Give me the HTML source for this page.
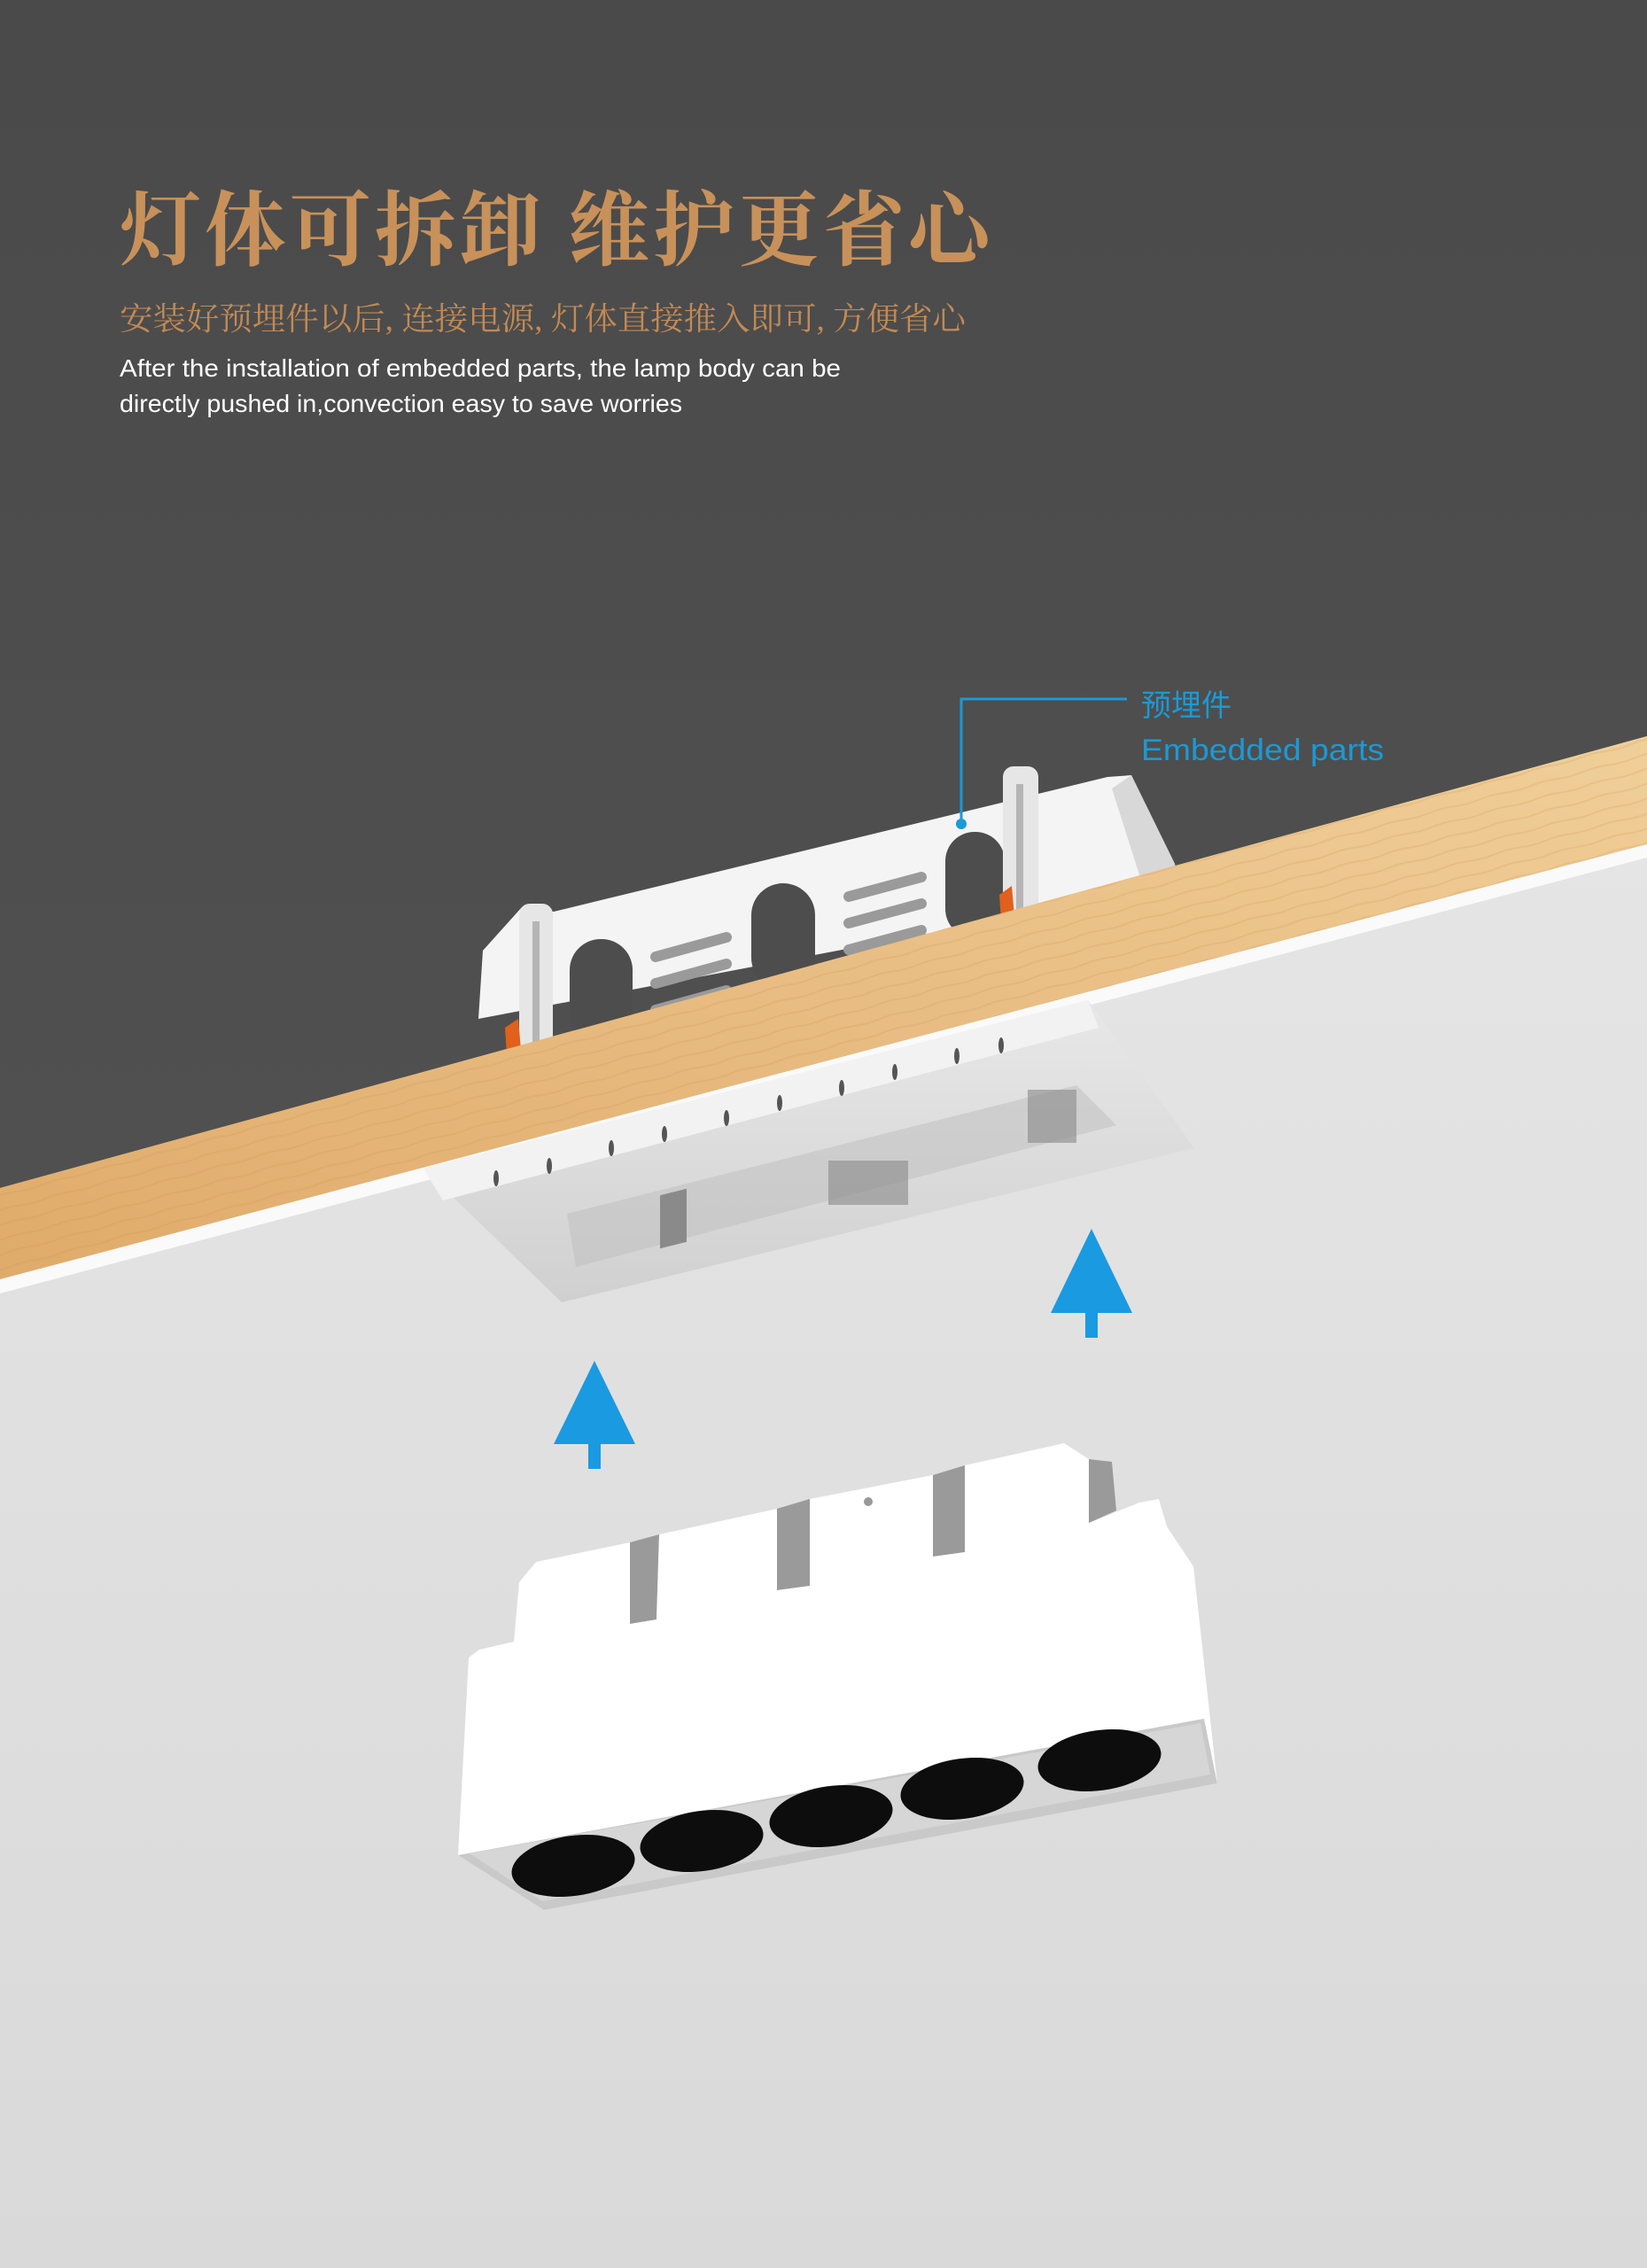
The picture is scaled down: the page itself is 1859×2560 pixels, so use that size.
<!DOCTYPE html>
<html><head><meta charset="utf-8"><style>
html,body{margin:0;padding:0;}
svg{display:block;}
</style></head><body>
<svg width="1859" height="2560" viewBox="0 0 1859 2560" xmlns="http://www.w3.org/2000/svg">
<defs>
<linearGradient id="dark" x1="0" y1="0" x2="0" y2="1">
<stop offset="0" stop-color="#4a4a4a"/><stop offset="1" stop-color="#505050"/></linearGradient>
<linearGradient id="light" x1="0" y1="0" x2="0" y2="1">
<stop offset="0" stop-color="#ececec"/><stop offset="1" stop-color="#d9d9d9"/></linearGradient>
<linearGradient id="wood" x1="0" y1="1" x2="1" y2="0">
<stop offset="0" stop-color="#e0ab6a"/><stop offset="0.5" stop-color="#e8bc82"/><stop offset="1" stop-color="#f0cf98"/></linearGradient>
<pattern id="grain" width="60" height="16" patternUnits="userSpaceOnUse" patternTransform="rotate(-15)">
<path d="M0 8 Q15 6 30 8 T60 8" stroke="#c98f4e" stroke-opacity="0.2" stroke-width="2" fill="none"/></pattern>
<linearGradient id="trough" x1="0" y1="0" x2="0" y2="1">
<stop offset="0" stop-color="#e8e8e8"/><stop offset="1" stop-color="#d0d0d0"/></linearGradient>
</defs>
<rect width="1859" height="2560" fill="url(#light)"/>
<polygon points="0,0 1859,0 1859,831 0,1341" fill="url(#dark)"/>

<!-- embedded frame above wood -->
<polygon points="545,1073 540,1150 1330,1000 1326,975 1277,875 1250,877 625,1029 589,1024" fill="#f4f4f4"/>
<polygon points="1277,875 1326,975 1330,1000 1290,1000 1255,890" fill="#d8d8d8"/>
<rect x="643" y="1060" width="71" height="120" rx="35" fill="#4d4d4d"/>
<rect x="848" y="997" width="72" height="120" rx="36" fill="#4d4d4d"/>
<rect x="1067" y="939" width="67" height="120" rx="33" fill="#4d4d4d"/>
<g stroke="#9a9a9a" stroke-width="12" stroke-linecap="round">
<line x1="740" y1="1080" x2="820" y2="1058"/><line x1="740" y1="1110" x2="820" y2="1088"/><line x1="740" y1="1140" x2="820" y2="1118"/>
<line x1="958" y1="1012" x2="1040" y2="990"/><line x1="958" y1="1042" x2="1040" y2="1020"/><line x1="958" y1="1072" x2="1040" y2="1050"/>
</g>
<rect x="586" y="1020" width="38" height="170" rx="12" fill="#e6e6e6"/>
<rect x="601" y="1040" width="8" height="150" fill="#b5b5b5"/>
<rect x="1132" y="865" width="40" height="180" rx="12" fill="#e6e6e6"/>
<rect x="1147" y="885" width="8" height="150" fill="#b5b5b5"/>
<polygon points="570,1160 585,1150 588,1185 572,1190" fill="#e0601c"/>
<polygon points="1128,1010 1142,1000 1145,1035 1130,1040" fill="#e0601c"/>

<!-- wood -->
<polygon points="0,1341 1859,831 1859,953 0,1444" fill="url(#wood)"/>
<polygon points="0,1341 1859,831 1859,953 0,1444" fill="url(#grain)"/>
<polygon points="0,1444 1859,953 1859,968 0,1460" fill="#fafafa"/>

<!-- trough below wood -->
<polygon points="478,1319 1228,1129 1348,1296 634,1470" fill="url(#trough)"/>
<polygon points="478,1319 1228,1129 1240,1160 500,1355" fill="#f2f2f2"/>
<polygon points="640,1370 1215,1225 1260,1270 650,1430" fill="#bdbdbd" opacity="0.5"/>
<rect x="745" y="1345" width="30" height="60" fill="#8a8a8a" transform="skewY(-14) translate(0,190)"/>
<rect x="935" y="1310" width="90" height="50" fill="#888" opacity="0.6"/>
<rect x="1160" y="1230" width="55" height="60" fill="#888" opacity="0.6"/>
<g fill="#555">
<ellipse cx="560" cy="1330" rx="3" ry="9"/><ellipse cx="620" cy="1316" rx="3" ry="9"/><ellipse cx="690" cy="1296" rx="3" ry="9"/>
<ellipse cx="750" cy="1280" rx="3" ry="9"/><ellipse cx="820" cy="1262" rx="3" ry="9"/><ellipse cx="880" cy="1245" rx="3" ry="9"/>
<ellipse cx="950" cy="1228" rx="3" ry="9"/><ellipse cx="1010" cy="1210" rx="3" ry="9"/><ellipse cx="1080" cy="1192" rx="3" ry="9"/><ellipse cx="1130" cy="1180" rx="3" ry="9"/>
</g>

<!-- leader -->
<polyline points="1272,789 1085,789 1085,930" fill="none" stroke="#1a9ad6" stroke-width="3"/>
<circle cx="1085" cy="930" r="6" fill="#1a9ad6"/>

<!-- arrows -->
<polygon points="1232,1387 1278,1482 1186,1482" fill="#1a9ae0"/>
<rect x="1225" y="1480" width="14" height="30" fill="#1a9ae0"/>
<polygon points="671,1536 717,1630 625,1630" fill="#1a9ae0"/>
<rect x="664" y="1628" width="14" height="30" fill="#1a9ae0"/>

<!-- lamp -->
<polygon points="711,1741 711,1833 741,1828 744,1732" fill="#9a9a9a"/>
<polygon points="877,1703 877,1795 914,1790 914,1692" fill="#9a9a9a"/>
<polygon points="1053,1665 1053,1757 1089,1752 1089,1654" fill="#9a9a9a"/>
<polygon points="1229,1647 1229,1719 1260,1705 1255,1650" fill="#9a9a9a"/>
<polygon points="517,2094 529,1871 541,1862 580,1853 586,1786 605,1763 711,1741 711,1833 741,1828 744,1732 877,1703 877,1795 914,1790 914,1692 1053,1665 1053,1757 1089,1752 1089,1654 1201,1629 1229,1647 1229,1719 1286,1696 1308,1692 1317,1723 1347,1768 1374,2013 614,2156" fill="#ffffff"/>
<polygon points="517,2094 1359,1940 1374,2013 614,2156" fill="#c9c9c9"/>
<polygon points="530,2092 1355,1945 1366,2003 612,2146" fill="#d6d6d6"/>
<g fill="#0d0d0d">
<ellipse cx="647" cy="2106" rx="70" ry="34" transform="rotate(-8 647 2106)"/>
<ellipse cx="792" cy="2078" rx="70" ry="34" transform="rotate(-8 792 2078)"/>
<ellipse cx="938" cy="2050" rx="70" ry="34" transform="rotate(-8 938 2050)"/>
<ellipse cx="1086" cy="2019" rx="70" ry="34" transform="rotate(-8 1086 2019)"/>
<ellipse cx="1241" cy="1987" rx="70" ry="34" transform="rotate(-8 1241 1987)"/>
</g>
<circle cx="980" cy="1695" r="5" fill="#999"/>

<!-- text -->
<text x="135" y="292" font-family="Liberation Serif, Noto Serif CJK SC, serif" font-weight="bold" font-size="92" fill="#c8915a" textLength="982" lengthAdjust="spacing">灯体可拆卸 维护更省心</text>
<text x="135" y="372" font-family="Liberation Serif, Noto Serif CJK SC, serif" font-size="36" fill="#c28a55" textLength="955" lengthAdjust="spacingAndGlyphs">安装好预埋件以后, 连接电源, 灯体直接推入即可, 方便省心</text>
<text x="135" y="425" font-family="Liberation Sans, sans-serif" font-size="28" fill="#ffffff" textLength="814" lengthAdjust="spacingAndGlyphs">After the installation of embedded parts,  the lamp body can be</text>
<text x="135" y="465" font-family="Liberation Sans, sans-serif" font-size="28" fill="#ffffff" textLength="635" lengthAdjust="spacingAndGlyphs">directly pushed in,convection easy to save worries</text>
<text x="1288" y="808" font-family="Liberation Sans, Noto Sans CJK SC, sans-serif" font-size="34" fill="#1a9ad6">预埋件</text>
<text x="1288" y="858" font-family="Liberation Sans, sans-serif" font-size="34" fill="#1a9ad6" textLength="274" lengthAdjust="spacingAndGlyphs">Embedded parts</text>
</svg>
</body></html>
